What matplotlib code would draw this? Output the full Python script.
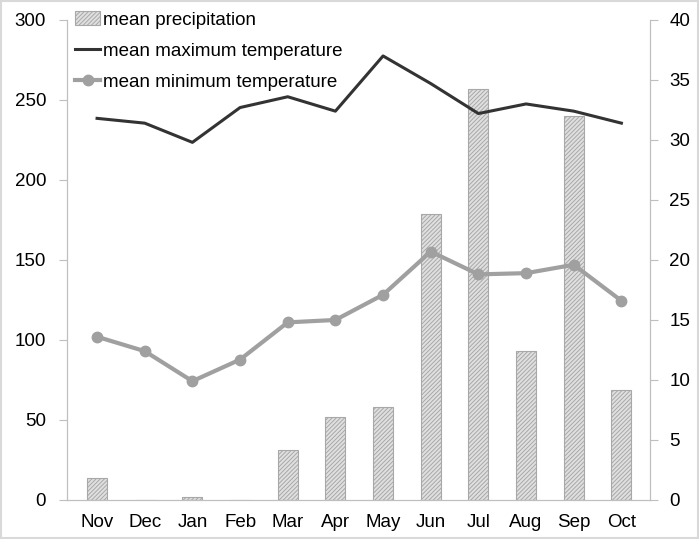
import matplotlib.pyplot as plt
import numpy as np

months = ["Nov", "Dec", "Jan", "Feb", "Mar", "Apr", "May", "Jun", "Jul", "Aug", "Sep", "Oct"]
precip = [14, 0, 2, 0, 31, 52, 58, 179, 257, 93, 240, 69]
tmax = [31.8, 31.4, 29.8, 32.7, 33.6, 32.4, 37.0, 34.7, 32.2, 33.0, 32.4, 31.4]
tmin = [13.6, 12.4, 9.9, 11.7, 14.8, 15.0, 17.1, 20.7, 18.8, 18.9, 19.6, 16.6]

plt.rcParams['font.family'] = ['Liberation Sans', 'DejaVu Sans']
plt.rcParams['hatch.color'] = '#505050'
plt.rcParams['hatch.linewidth'] = 0.7

fig = plt.figure(figsize=(6.99, 5.39), dpi=100)
ax = fig.add_axes([0.0959, 0.0724, 0.834, 0.8906])
ax2 = ax.twinx()

x = np.arange(len(months))
bars = ax.bar(x, precip, width=0.42, color='#e0e0e0', edgecolor='#a8a8a8',
              hatch='////////', linewidth=0.8, label='mean precipitation')
l1, = ax2.plot(x, tmax, color='#333333', lw=2.2, label='mean maximum temperature')
l2, = ax2.plot(x, tmin, color='#a0a0a0', lw=3, marker='o', ms=7.5,
               label='mean minimum temperature')

ax.set_xlim(-0.63, 11.6)
ax.set_ylim(0, 300)
ax2.set_ylim(0, 40)
ax.set_yticks(range(0, 301, 50))
ax2.set_yticks(range(0, 41, 5))
ax.set_xticks(x)
ax.set_xticklabels(months)

for a in (ax, ax2):
    a.spines['top'].set_visible(False)
    for s in ('left', 'right', 'bottom'):
        a.spines[s].set_color('#bfbfbf')
    a.tick_params(labelsize=13.5, colors='#bfbfbf', labelcolor='black', length=6)
ax.tick_params(axis='x', length=0, pad=10)
ax.tick_params(axis='y', pad=9)
ax2.tick_params(axis='y', pad=8)

leg = ax.legend([bars, l1, l2], [bars.get_label(), l1.get_label(), l2.get_label()],
                loc='upper left', bbox_to_anchor=(-0.009, 1.045), frameon=False,
                fontsize=13.5, handlelength=1.35, handletextpad=0.15,
                labelspacing=0.74, borderaxespad=0.3)

fig.patches.append(plt.Rectangle((0.001, 0.001), 0.998, 0.998, transform=fig.transFigure,
                                 fill=False, edgecolor='#d9d9d9', lw=1.5))

fig.savefig("out.png", dpi=100)
